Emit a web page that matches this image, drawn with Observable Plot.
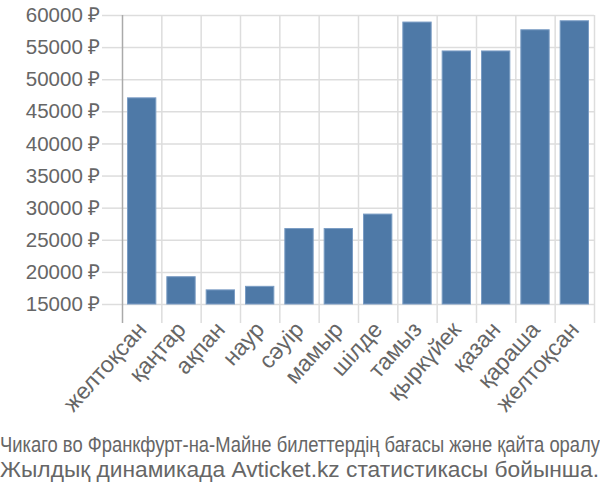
<!DOCTYPE html>
<html>
<head>
<meta charset="utf-8">
<script src="https://cdn.jsdelivr.net/npm/d3@7"></script>
<script src="https://cdn.jsdelivr.net/npm/@observablehq/plot@0.6"></script>
<style>
  body { margin: 0; background: #fff; font-family: "Liberation Sans", Arial, sans-serif; overflow: hidden; }
  .cap { color: #666; white-space: nowrap; margin: 0; height: 25px; line-height: 25px; }
  #cap1 span { display: inline-block; font-family: "Liberation Sans Narrow", "Liberation Sans", sans-serif; font-size: 22px; transform-origin: 0 50%; }
  #cap2 span { display: inline-block; font-family: "Liberation Sans", sans-serif; font-size: 22.7px; }
</style>
</head>
<body>
<div id="chart"></div>
<div class="cap" id="cap1"><span>Чикаго во Франкфурт-на-Майне билеттердің бағасы және қайта оралу</span></div>
<div class="cap" id="cap2"><span>Жылдық динамикада Avticket.kz статистикасы бойынша.</span></div>
<script>
const months = ["желтоқсан","қаңтар","ақпан","наур","сәуір","мамыр","шілде","тамыз","қыркүйек","қазан","қараша","желтоқсан"];
const prices = [47100, 19250, 17200, 17750, 26750, 26750, 29000, 58900, 54400, 54400, 57700, 59100];
const yTicks = [15000, 20000, 25000, 30000, 35000, 40000, 45000, 50000, 55000, 60000];

const data = months.map((m, i) => ({month: m, i, price: prices[i]}));
const edges = d3.range(0, months.length + 1);
const centers = months.map((m, i) => i + 0.5);

const chart = Plot.plot({
  width: 600,
  height: 432,
  marginTop: 15,
  marginLeft: 122,
  marginRight: 6,
  marginBottom: 128,
  style: {fontFamily: "Liberation Sans, Arial, sans-serif", fontSize: "20px", color: "#666", background: "#fff"},
  x: {domain: [0, months.length]},
  y: {domain: [15000, 60000]},
  marks: [
    Plot.gridY(yTicks, {stroke: "#ddd", strokeOpacity: 1, strokeWidth: 1.5}),
    Plot.gridX(edges.slice(1), {stroke: "#ddd", strokeOpacity: 1, strokeWidth: 1.5}),
    Plot.axisY(yTicks, {tickSize: 20, tickPadding: 2, stroke: "#ddd", strokeWidth: 1.5, tickFormat: d => d + " ₽", fill: "#666", fontSize: 20.5, label: null}),
    Plot.axisX(edges.slice(1), {tickSize: 19, stroke: "#ddd", strokeWidth: 1.5, tickFormat: () => "", label: null}),
    Plot.ruleX([0], {y1: 15000, y2: 60000, stroke: "#aaa", strokeWidth: 1.5}),
    Plot.axisX([0], {tickSize: 19, stroke: "#aaa", strokeWidth: 1.5, tickFormat: () => "", label: null}),
    Plot.rectY(data, {x1: "i", x2: d => d.i + 1, y1: 15000, y2: "price", fill: "#4e79a7", stroke: "#7a9cc4", strokeWidth: 1, insetLeft: 5.5, insetRight: 5.5}),
    Plot.axisX(centers, {tickSize: 0, tickPadding: 21, tickRotate: -48, tickFormat: d => months[Math.floor(d)], fill: "#666", fontSize: 23, label: null})
  ]
});
document.getElementById("chart").appendChild(chart);
document.getElementById("chart").style.height = "432px";

const s1 = document.querySelector("#cap1 span");
const w1 = s1.getBoundingClientRect().width;
s1.style.transform = `scaleX(${600 / w1})`;
const s2 = document.querySelector("#cap2 span");
const w2 = s2.getBoundingClientRect().width;
s2.style.fontSize = (22.7 * 599 / w2) + "px";
</script>
</body>
</html>
